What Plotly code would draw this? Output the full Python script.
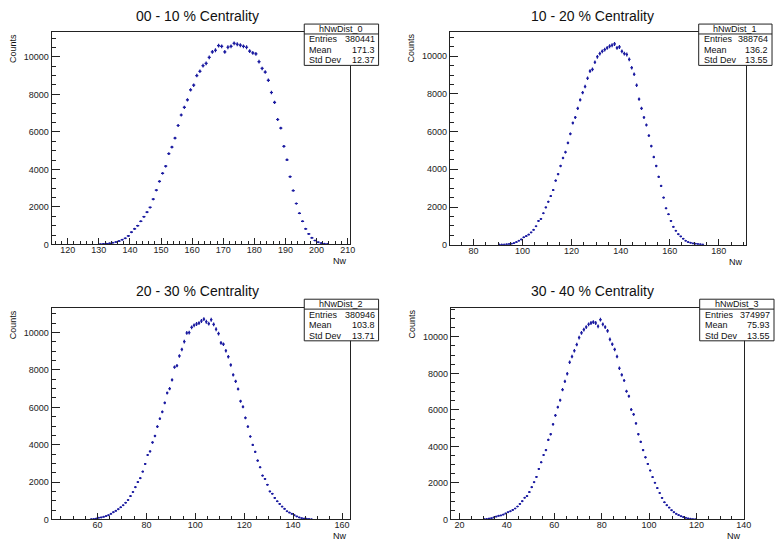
import numpy as np
import plotly.graph_objects as go

# ---- histogram contents (1-unit bins), one array per centrality class ----
titles = ["00 - 10 % Centrality", "10 - 20 % Centrality",
          "20 - 30 % Centrality", "30 - 40 % Centrality"]
hist_names = ["hNwDist_0", "hNwDist_1", "hNwDist_2", "hNwDist_3"]
first_edge = [130, 90, 57, 30]

counts_0 = [15, 25, 40, 60, 90, 130, 180, 250, 330, 450,
            650, 830, 1000, 1230, 1480, 1720, 1970, 2410, 2890, 3360,
            3790, 4170, 4840, 5190, 5670, 6340, 6900, 7310, 7710, 8240,
            8490, 9000, 9230, 9530, 9650, 9970, 10260, 10350, 10600, 10560,
            10260, 10510, 10560, 10720, 10670, 10620, 10560, 10510, 10300, 10210,
            10160, 9740, 9380, 9190, 8750, 8100, 7570, 6660, 6200, 5230,
            4510, 3610, 2870, 2180, 1660, 1230, 830, 560, 350, 210,
            120, 70, 35, 18]
counts_1 = [5, 8, 12, 20,
            35, 53, 88, 140, 210, 280, 390, 460, 540, 650,
            790, 980, 1260, 1370, 1670, 1980, 2280, 2580, 2900, 3400,
            3740, 4180, 4600, 4910, 5400, 5880, 6460, 6750, 7230, 7680,
            8070, 8390, 8830, 9210, 9300, 9680, 9970, 10140, 10260, 10350,
            10440, 10530, 10580, 10650, 10440, 10490, 10260, 10140, 10090, 9830,
            9390, 9040, 8460, 7720, 7230, 6750, 6350, 5790, 5230, 4650,
            4180, 3600, 3120, 2500, 1930, 1610, 1260, 950, 740, 560,
            440, 320, 210, 140, 105, 70, 53, 35, 18, 10]
counts_2 = [15, 20, 50, 90, 110, 140, 180, 230, 300, 390,
            460, 550, 650, 760, 900, 1040, 1250, 1470, 1730, 2000,
            2210, 2560, 2970, 3450, 3640, 4120, 4470, 4970, 5390, 5760,
            6240, 6770, 7000, 7470, 8150, 8230, 8750, 9100, 9520, 9980,
            10000, 10280, 10390, 10460, 10510, 10620, 10720, 10580, 10480, 10690,
            10440, 10180, 9950, 9450, 9380, 9030, 8710, 8270, 7740, 7390,
            6980, 6330, 6030, 5440, 4970, 4440, 3990, 3620, 3150, 2790,
            2350, 2170, 1860, 1500, 1380, 1150, 970, 830, 690, 570,
            440, 370, 300, 230, 160, 110, 70, 50, 35, 18,
            10]
counts_3 = [15, 20, 50, 70, 110, 160, 200, 220, 270, 330,
            400, 450, 520, 600, 710, 850, 1000, 1190, 1280, 1500,
            1770, 2040, 2330, 2770, 3130, 3530, 3800, 4360, 4670, 5210,
            5700, 6150, 6530, 7110, 7560, 7980, 8610, 8920, 9240, 9580,
            9960, 10220, 10400, 10540, 10690, 10760, 10810, 10760, 10580, 10940,
            10690, 10540, 10330, 9860, 9600, 9310, 8920, 8280, 7920, 7610,
            7020, 6750, 6020, 5750, 5260, 4670, 4250, 3800, 3400, 3040,
            2680, 2320, 2010, 1720, 1450, 1180, 940, 780, 650, 510,
            400, 310, 240, 180, 130, 90, 55, 36, 18, 12]
all_counts = [counts_0, counts_1, counts_2, counts_3]

# stats box contents
entries = ["380441", "388764", "380946", "374997"]
means = ["171.3", "136.2", "103.8", "75.93"]
std_devs = ["12.37", "13.55", "13.71", "13.55"]

# ---- layout geometry (pixels) ----
W, H = 782, 541
frames = [(52, 32, 353, 246.7), (454, 32, 753, 247),
          (52, 310.7, 353, 524.3), (455, 310.7, 751, 524.3)]
x_ranges = [[114.8, 210.7], [70.4, 191.2], [41.2, 163.2], [16.4, 140.2]]
y_ranges = [[0, 11340], [0, 11300], [0, 11326], [0, 11590]]
x_dtick = [10, 20, 20, 20]
x_minor = [2, 5, 5, 5]
stat_boxes = [(307, 24.3, 382, 66), (705, 24.3, 779, 66),
              (307, 302, 382, 344), (706, 302, 781, 344)]
title_pos = [(199, 16), (598, 16), (199, 294), (598, 294)]

COL = "#1a1aa0"
FONT = "Liberation Sans, Arial, Helvetica, sans-serif"


def px(x):
    return x / W


def py(y):
    return 1 - y / H


fig = go.Figure()
layout = dict(width=W, height=H, margin=dict(l=0, r=0, t=0, b=0),
              paper_bgcolor="white", plot_bgcolor="white", showlegend=False)
annotations = []
shapes = []

for i in range(4):
    counts = np.array(all_counts[i], dtype=float)
    centers = first_edge[i] + 0.5 + np.arange(len(counts))
    sfx = "" if i == 0 else str(i + 1)
    fig.add_trace(go.Scatter(
        x=centers, y=counts, mode="markers",
        marker=dict(size=2, color=COL),
        error_x=dict(type="constant", value=0.5, thickness=1.2, width=0, color=COL),
        error_y=dict(type="data", array=np.sqrt(counts), thickness=1.2, width=0, color=COL),
        xaxis="x" + sfx, yaxis="y" + sfx, hoverinfo="x+y"))

    x0, y0, x1, y1 = frames[i]
    layout["xaxis" + sfx] = dict(
        domain=[px(x0), px(x1)], anchor="y" + sfx, range=x_ranges[i],
        showline=True, linecolor="#222", linewidth=1, mirror=True,
        ticks="inside", ticklen=6, tickwidth=1, tickcolor="#222",
        dtick=x_dtick[i], tick0=0, showgrid=False, zeroline=False,
        ticklabelstandoff=-3,
        tickfont=dict(family=FONT, size=9, color="#222"),
        minor=dict(ticks="inside", ticklen=3, dtick=x_minor[i], tick0=0,
                   tickcolor="#222", showgrid=False))
    layout["yaxis" + sfx] = dict(
        domain=[py(y1), py(y0)], anchor="x" + sfx, range=y_ranges[i],
        showline=True, linecolor="#222", linewidth=1, mirror=True,
        ticks="inside", ticklen=8, tickwidth=1, tickcolor="#222",
        dtick=2000, tick0=0, tickformat="d", showgrid=False, zeroline=False,
        tickfont=dict(family=FONT, size=9, color="#222"),
        minor=dict(ticks="inside", ticklen=4, dtick=500, tick0=0,
                   tickcolor="#222", showgrid=False))

    # panel title
    tx, ty = title_pos[i]
    annotations.append(dict(text=titles[i], x=px(tx), y=py(ty), xref="paper",
                            yref="paper", showarrow=False, xanchor="center",
                            yanchor="middle", font=dict(family=FONT, size=14, color="#111")))
    # axis titles
    annotations.append(dict(text="Counts", x=px(x0 - 39), y=py(y0), xref="paper",
                            yref="paper", showarrow=False, textangle=-90,
                            xanchor="center", yanchor="top",
                            font=dict(family=FONT, size=9, color="#111")))
    annotations.append(dict(text="Nw", x=px(x1 - 1), y=py(y1 + 10), xref="paper",
                            yref="paper", showarrow=False, xanchor="right",
                            yanchor="top", font=dict(family=FONT, size=9, color="#111")))

    # stats box
    bx0, by0, bx1, by1 = stat_boxes[i]
    shapes.append(dict(type="rect", xref="paper", yref="paper",
                       x0=px(bx0), x1=px(bx1), y0=py(by1), y1=py(by0),
                       line=dict(color="#222", width=1), fillcolor="white", layer="above"))
    shapes.append(dict(type="line", xref="paper", yref="paper",
                       x0=px(bx0), x1=px(bx1), y0=py(by0 + 10), y1=py(by0 + 10),
                       line=dict(color="#222", width=1), layer="above"))
    annotations.append(dict(text=hist_names[i], x=px((bx0 + bx1) / 2), y=py(by0 + 5),
                            xref="paper", yref="paper", showarrow=False,
                            xanchor="center", yanchor="middle",
                            font=dict(family=FONT, size=9, color="#111")))
    rows = [("Entries", entries[i]), ("Mean", means[i]), ("Std Dev", std_devs[i])]
    for k, (lab, val) in enumerate(rows):
        ry = by0 + 15.5 + k * 10.6
        annotations.append(dict(text=lab, x=px(bx0 + 3), y=py(ry), xref="paper",
                                yref="paper", showarrow=False, xanchor="left",
                                yanchor="middle", font=dict(family=FONT, size=9, color="#111")))
        annotations.append(dict(text=val, x=px(bx1 - 2), y=py(ry), xref="paper",
                                yref="paper", showarrow=False, xanchor="right",
                                yanchor="middle", font=dict(family=FONT, size=9, color="#111")))

layout["annotations"] = annotations
layout["shapes"] = shapes
fig.update_layout(**layout)
fig.write_html("out.html")
